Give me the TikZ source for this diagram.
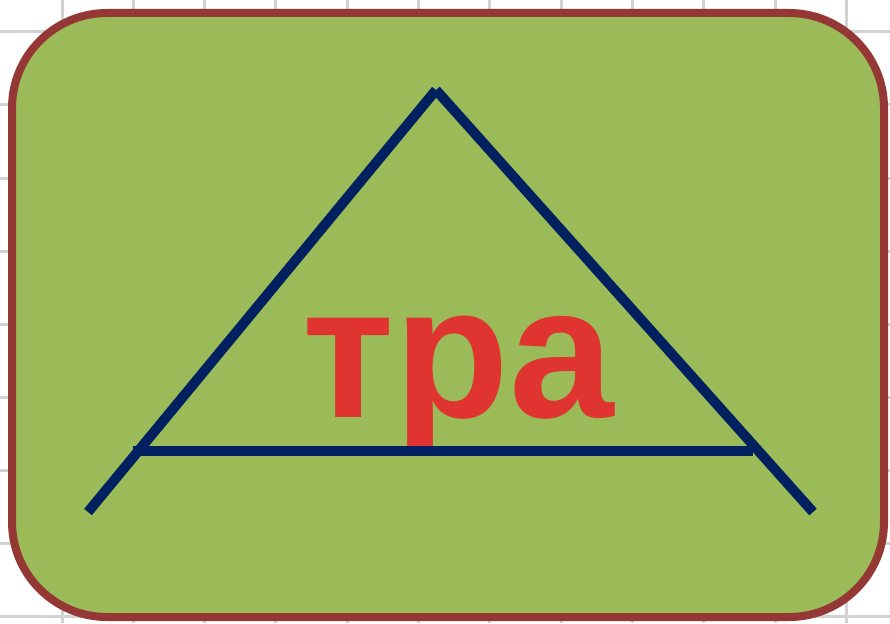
\documentclass[tikz,border=0pt]{standalone}
\usepackage{fontspec}
\usetikzlibrary{shadows}
\newfontfamily\tralabelfont{Liberation Sans}
\definecolor{TraGreen}{RGB}{155,187,89}
\definecolor{TraBorder}{RGB}{149,55,53}
\definecolor{TraNavy}{RGB}{0,32,96}
\definecolor{TraRed}{RGB}{224,52,48}
\definecolor{TraGrid}{RGB}{210,210,210}
\tikzset{
  tra/grid/.style={draw=TraGrid, line width=3pt},
  tra/frame/.style={
    draw=TraBorder,
    line width=8pt,
    rounded corners=95pt,
    fill=TraGreen,
    minimum width=872pt,
    minimum height=604pt,
    inner sep=0pt,
    drop shadow={opacity=0.25, shadow xshift=2pt, shadow yshift=-3pt}
  },
  tra/leg/.style={draw=TraNavy, line width=10pt},
  tra/word/.style={
    text=TraRed,
    inner sep=0pt,
    anchor=base,
    font=\tralabelfont\bfseries\fontsize{188}{192}\selectfont
  }
}
\begin{document}
\begin{tikzpicture}[x=1pt,y=-1pt]
  \useasboundingbox (0,0) rectangle (890,623);
  \fill[white] (0,0) rectangle (890,623);
  \foreach \x in {0,...,11}
    {\draw[tra/grid] (62+71.3*\x,0) -- (62+71.3*\x,623);}
  \foreach \y in {0,...,8}
    {\draw[tra/grid] (0,32+73*\y) -- (890,32+73*\y);}
  \node[tra/frame] (frame) at (448,315) {};
  \node[tra/word] (word) at (458,417) {тра};
  \coordinate (apex) at (436,90);
  \coordinate (leftfoot) at (88,512);
  \coordinate (rightfoot) at (813,512);
  \coordinate (baseleft) at (133,451);
  \coordinate (baseright) at (753,451);
  \draw[tra/leg] (apex) -- (leftfoot);
  \draw[tra/leg] (apex) -- (rightfoot);
  \draw[tra/leg] (baseleft) -- (baseright);
\end{tikzpicture}
\end{document}
